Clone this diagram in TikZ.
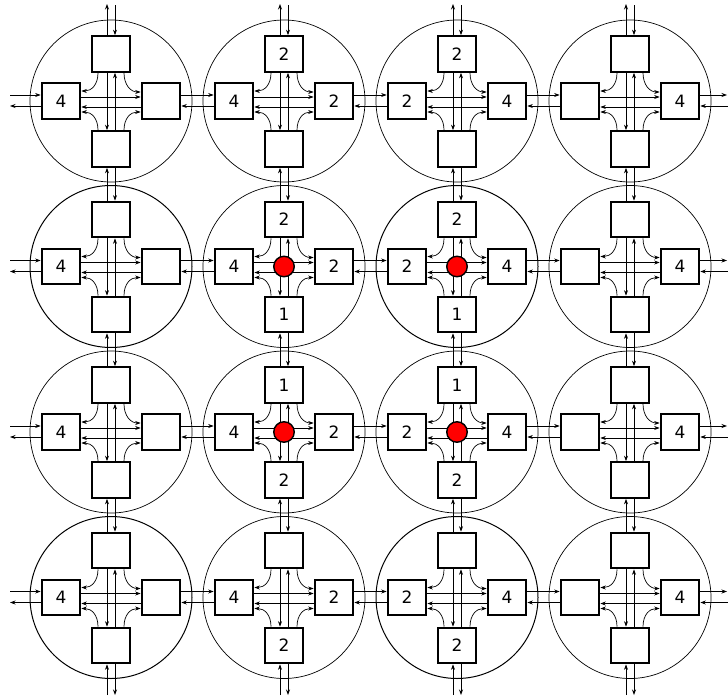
\documentclass[tikz,border=0pt]{standalone}
\usepackage{fontspec}
\setmainfont{DejaVu Sans}
\usetikzlibrary{arrows.meta,calc}
\tikzset{
  rbox/.style={draw, line width=2.2pt, minimum width=38.5pt, minimum height=35.5pt, inner sep=0pt, fill=white, font=\fontsize{17}{20}\selectfont},
  ring/.style={draw, line width=#1},
  wire/.style={line width=0.7pt, -{Stealth[length=5.5pt,width=4pt]}},
  hub/.style={circle, draw, line width=1.4pt, fill=red, minimum size=20.5pt, inner sep=0pt},
}
\newcommand\myrouter[9]{%
  \draw[ring=#9] (#2,#3) circle (81pt);
  \node[rbox] (#1N) at (#2,#3-47) {#4};
  \node[rbox] (#1E) at (#2+50,#3) {#5};
  \node[rbox] (#1S) at (#2,#3+48) {#6};
  \node[rbox] (#1W) at (#2-50,#3) {#7};
  \draw[wire] ($(#1N.south)+(-4,0)$) -- ($(#1S.north)+(-4,0)$);
  \draw[wire] ($(#1S.north)+(4,0)$) -- ($(#1N.south)+(4,0)$);
  \draw[wire] ($(#1W.east)+(0,-4)$) -- ($(#1E.west)+(0,-4)$);
  \draw[wire] ($(#1E.west)+(0,6)$) -- ($(#1W.east)+(0,6)$);
  \draw[wire] ($(#1N.south)+(-13,0)$) .. controls +(0,12) and +(10,0) .. ($(#1W.east)+(0,-10)$);
  \draw[wire] ($(#1N.south)+(13,0)$) .. controls +(0,12) and +(-10,0) .. ($(#1E.west)+(0,-9)$);
  \draw[wire] ($(#1S.north)+(-13,0)$) .. controls +(0,-12) and +(10,0) .. ($(#1W.east)+(0,11)$);
  \draw[wire] ($(#1S.north)+(13,0)$) .. controls +(0,-12) and +(-10,0) .. ($(#1E.west)+(0,11)$);
  \ifnum#8=1 \node[hub] (#1H) at (#2,#3) {};\fi
}
\begin{document}
\begin{tikzpicture}[x=1pt,y=-1pt]
\useasboundingbox (0,0) rectangle (728,699);
\fill[white] (0,0) rectangle (728,699);
% row 1
\myrouter{r11}{111}{101}{}{}{}{4}{0}{0.7pt}
\myrouter{r21}{284}{101}{2}{2}{}{4}{0}{0.7pt}
\myrouter{r31}{457}{101}{2}{4}{}{2}{0}{0.7pt}
\myrouter{r41}{630}{101}{}{4}{}{}{0}{0.7pt}
% row 2
\myrouter{r12}{111}{266.5}{}{}{}{4}{0}{1.0pt}
\myrouter{r22}{284}{266.5}{2}{2}{1}{4}{1}{0.7pt}
\myrouter{r32}{457}{266.5}{2}{4}{1}{2}{1}{1.0pt}
\myrouter{r42}{630}{266.5}{}{4}{}{}{0}{0.7pt}
% row 3
\myrouter{r13}{111}{432}{}{}{}{4}{0}{0.7pt}
\myrouter{r23}{284}{432}{1}{2}{2}{4}{1}{0.7pt}
\myrouter{r33}{457}{432}{1}{4}{2}{2}{1}{0.7pt}
\myrouter{r43}{630}{432}{}{4}{}{}{0}{0.7pt}
% row 4
\myrouter{r14}{111}{597.5}{}{}{}{4}{0}{1.0pt}
\myrouter{r24}{284}{597.5}{}{2}{2}{4}{0}{0.7pt}
\myrouter{r34}{457}{597.5}{}{4}{2}{2}{0}{1.0pt}
\myrouter{r44}{630}{597.5}{}{4}{}{}{0}{0.7pt}
% horizontal links
\foreach \a/\b in {1/2,2/3,3/4}{
  \foreach \j in {1,2,3,4}{
    \draw[wire] ($(r\a\j E.east)+(0,-6)$) -- ($(r\b\j W.west)+(0,-6)$);
    \draw[wire] ($(r\b\j W.west)+(0,5)$) -- ($(r\a\j E.east)+(0,5)$);
  }
}
% vertical links
\foreach \a/\b in {1/2,2/3,3/4}{
  \foreach \i in {1,2,3,4}{
    \draw[wire] ($(r\i\b N.north)+(-4,0)$) -- ($(r\i\a S.south)+(-4,0)$);
    \draw[wire] ($(r\i\a S.south)+(4,0)$) -- ($(r\i\b N.north)+(4,0)$);
  }
}
% border links
\foreach \i/\cx in {1/111,2/284,3/457,4/630}{
  \coordinate (tl\i) at (\cx-4,4);
  \coordinate (tr\i) at (\cx+4,5);
  \coordinate (bl\i) at (\cx-4,695);
  \coordinate (br\i) at (\cx+4,695);
  \draw[wire] ($(r\i1N.north)+(-4,0)$) -- (tl\i);
  \draw[wire] (tr\i) -- ($(r\i1N.north)+(4,0)$);
  \draw[wire] (bl\i) -- ($(r\i4S.south)+(-4,0)$);
  \draw[wire] ($(r\i4S.south)+(4,0)$) -- (br\i);
}
\foreach \j/\cy in {1/101,2/266.5,3/432,4/597.5}{
  \coordinate (lu\j) at (10,\cy-6);
  \coordinate (ll\j) at (10,\cy+5);
  \coordinate (ru\j) at (727,\cy-6);
  \coordinate (rl\j) at (728,\cy+5);
  \draw[wire] (lu\j) -- ($(r1\j W.west)+(0,-6)$);
  \draw[wire] ($(r1\j W.west)+(0,5)$) -- (ll\j);
  \draw[wire] ($(r4\j E.east)+(0,-6)$) -- (ru\j);
  \draw[wire] (rl\j) -- ($(r4\j E.east)+(0,5)$);
}
\end{tikzpicture}
\end{document}
